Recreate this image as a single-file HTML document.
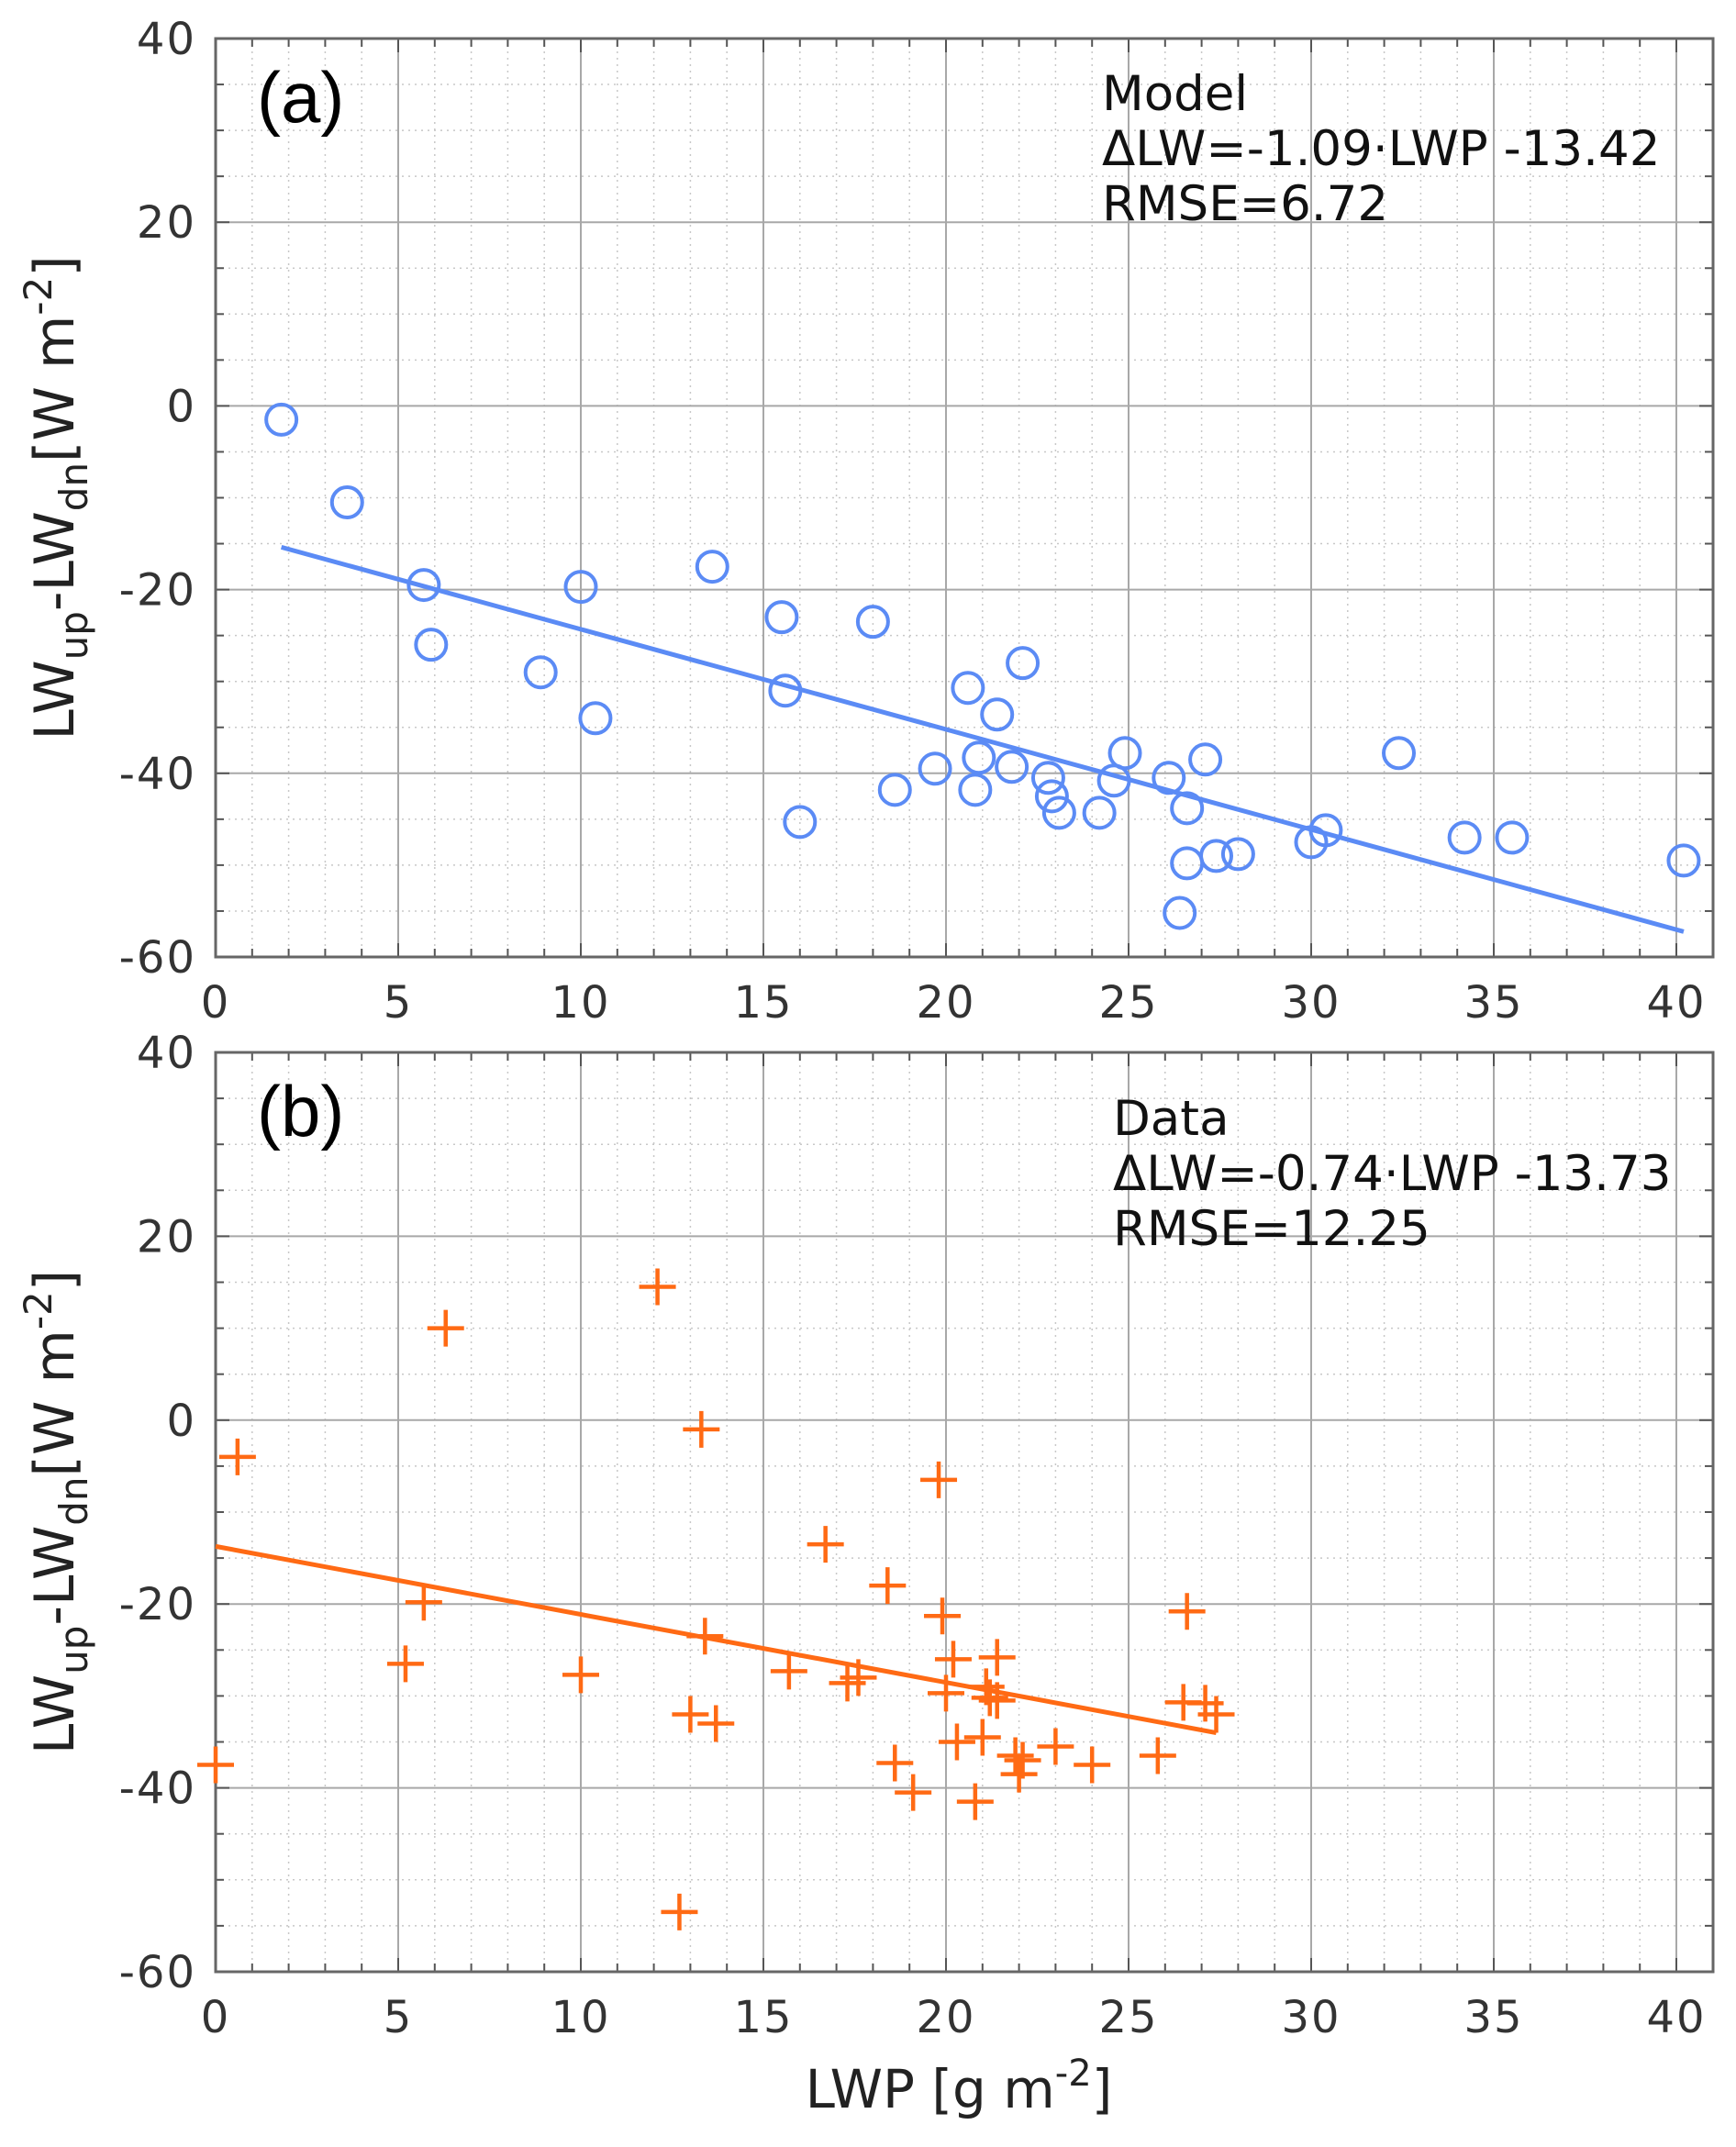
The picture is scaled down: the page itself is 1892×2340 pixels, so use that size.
<!DOCTYPE html>
<html><head><meta charset="utf-8">
<style>
html,body{margin:0;padding:0;background:#fff;}
svg{display:block;font-family:"DejaVu Sans","Liberation Sans",sans-serif;}
</style></head>
<body>
<svg id="chart" width="1892" height="2340" viewBox="0 0 1892 2340" xmlns="http://www.w3.org/2000/svg"></svg>
<script>
// ---- data ----
const modelX = [1.8,3.6,5.7,5.9,8.9,10,10.4,13.6,15.5,15.6,16,18,18.6,19.7,20.6,20.8,20.9,21.4,21.8,22.1,22.8,22.9,23.1,24.2,24.6,24.9,26.1,26.4,26.6,26.6,27.1,27.4,28,30,30.4,32.4,34.2,35.5,40.2];
const modelY = [-1.5,-10.5,-19.5,-26,-29,-19.7,-34,-17.5,-23,-31,-45.3,-23.5,-41.8,-39.5,-30.7,-41.8,-38.3,-33.6,-39.3,-28,-40.5,-42.5,-44.3,-44.3,-40.8,-37.8,-40.5,-55.2,-49.8,-43.8,-38.5,-49,-48.8,-47.5,-46.2,-37.8,-47,-47,-49.5];
const modelFit = [-1.09,-13.42];
const dataX = [0,0.6,5.2,5.7,6.3,10,12.1,12.7,13,13.3,13.4,13.7,15.7,16.7,17.3,17.6,18.4,18.6,19.1,19.8,19.9,20,20.2,20.3,20.8,21,21.1,21.2,21.4,21.4,21.9,22,22.1,23,24,25.8,26.6,26.5,27.1,27.4];
const dataY = [-37.5,-4,-26.5,-19.8,10,-27.7,14.5,-53.5,-32,-1,-23.5,-33,-27.3,-13.5,-28.6,-28,-18,-37.3,-40.5,-6.5,-21.3,-29.7,-26,-35,-41.5,-34.5,-29,-30.2,-25.8,-30.5,-36.5,-38.5,-37,-35.5,-37.5,-36.5,-20.8,-30.7,-30.8,-32];
const dataFit = [-0.74,-13.73];
const xTicks = [0,5,10,15,20,25,30,35,40];
const yTicks = [40,20,0,-20,-40,-60];

const NS="http://www.w3.org/2000/svg";
const svg=document.getElementById('chart');
function mk(tag,attrs,parent){const e=document.createElementNS(NS,tag);for(const k in attrs)e.setAttribute(k,attrs[k]);(parent||svg).appendChild(e);return e;}

const X0=235, XS=39.8, XR=1867;
function panel(top,bottom,xs,ys,fit,kind,color,tag,lines,tx,tOff,showXTitle){
  const g=mk('g',{});
  
  
  const ysc=(bottom-top)/100;
  const sx=v=>X0+v*XS, sy=v=>top+(40-v)*ysc;
  for(let v=1;v<=40;v++){ if(v%5) mk('line',{x1:sx(v),x2:sx(v),y1:top,y2:bottom,stroke:'#c8c8c8','stroke-width':1.5,'stroke-dasharray':'2,5'},g);}
  for(let v=-55;v<40;v+=5){ if(v%20) mk('line',{x1:X0,x2:XR,y1:sy(v),y2:sy(v),stroke:'#c8c8c8','stroke-width':1.5,'stroke-dasharray':'2,5'},g);}
  xTicks.forEach(v=>{ if(v>0) mk('line',{x1:sx(v),x2:sx(v),y1:top,y2:bottom,stroke:'#a8a8a8','stroke-width':2},g);});
  yTicks.forEach(v=>{ mk('line',{x1:X0,x2:XR,y1:sy(v),y2:sy(v),stroke:'#a8a8a8','stroke-width':2},g);});
  for(let v=0;v<=40;v++){const L=v%5?9:15;
    mk('line',{x1:sx(v),x2:sx(v),y1:bottom,y2:bottom-L,stroke:'#555','stroke-width':2},g);
    mk('line',{x1:sx(v),x2:sx(v),y1:top,y2:top+L,stroke:'#555','stroke-width':2},g);}
  for(let v=-60;v<=40;v+=5){const L=v%20?9:15;
    mk('line',{x1:X0,x2:X0+L,y1:sy(v),y2:sy(v),stroke:'#555','stroke-width':2},g);
    mk('line',{x1:XR,x2:XR-L,y1:sy(v),y2:sy(v),stroke:'#555','stroke-width':2},g);}
  const frame=mk('rect',{x:X0,y:top,width:XR-X0,height:bottom-top,fill:'none',stroke:'#666','stroke-width':3},g);
  
  
  yTicks.forEach(v=>{const t=mk('text',{x:214,y:sy(v)+17,'text-anchor':'end','font-size':48,'letter-spacing':2,fill:'#333'},g);t.textContent=v;
    
    });
  xTicks.forEach(v=>{const t=mk('text',{x:sx(v),y:bottom+66,'text-anchor':'middle','font-size':48,'letter-spacing':2,fill:'#333'},g);t.textContent=v;
    
    });
  const x1=Math.min(...xs), x2=Math.max(...xs);
  const fl=mk('line',{x1:sx(x1),y1:sy(fit[0]*x1+fit[1]),x2:sx(x2),y2:sy(fit[0]*x2+fit[1]),stroke:color,'stroke-width':5},g);
  
  
  xs.forEach((x,i)=>{const px=sx(x),py=sy(ys[i]);let m;
    if(kind==='model'){ m=mk('circle',{cx:px,cy:py,r:16.5,fill:'none',stroke:color,'stroke-width':4},g);}
    else { m=mk('path',{d:`M${px-20} ${py}H${px+20}M${px} ${py-20}V${py+20}`,stroke:color,'stroke-width':4.5,fill:'none'},g);}
    
    });
  const pt=mk('text',{x:280,y:top+91,'font-size':78,fill:'#000','font-family':'Liberation Sans, sans-serif'},g);pt.textContent=tag;
  
  
  lines.forEach((s,i)=>{const t=mk('text',{x:tx,y:top+tOff+i*60,'font-size':53,fill:'#111'},g);t.textContent=s;
    
    });
  const yt=mk('text',{transform:`translate(80 ${(top+bottom)/2}) rotate(-90)`,'text-anchor':'middle','font-size':60,fill:'#222'},g);
  yt.innerHTML='LW<tspan font-size="42" dy="15">up</tspan><tspan dy="-15">-LW</tspan><tspan font-size="42" dy="15">dn</tspan><tspan dy="-15">[W m</tspan><tspan font-size="42" dy="-24">-2</tspan><tspan dy="24">]</tspan>';
  
  
  if(showXTitle){
    const xt=mk('text',{x:1045,y:2297,'text-anchor':'middle','font-size':58,fill:'#222'},g);
    xt.innerHTML='LWP [g m<tspan font-size="40" dy="-24">-2</tspan><tspan dy="24">]</tspan>';
    
    
  }
}
panel(42,1043,modelX,modelY,modelFit,'model','#5b8bf5','(a)',['Model','\u0394LW=-1.09\u00b7LWP -13.42','RMSE=6.72'],1201,78,false);
panel(1147,2149,dataX,dataY,dataFit,'data','#ff6a14','(b)',['Data','\u0394LW=-0.74\u00b7LWP -13.73','RMSE=12.25'],1213,90,true);
</script>
</body></html>
